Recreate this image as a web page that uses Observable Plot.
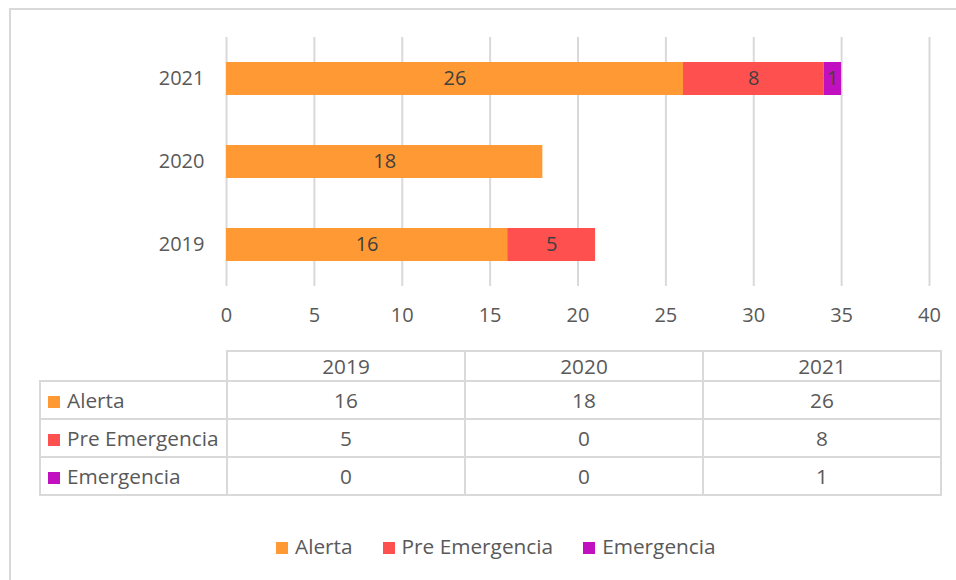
<!DOCTYPE html>
<html>
<head>
<meta charset="utf-8">
<script src="https://cdn.jsdelivr.net/npm/d3@7"></script>
<script src="https://cdn.jsdelivr.net/npm/@observablehq/plot@0.6"></script>
<style>
  html, body { margin: 0; padding: 0; background: #fff; }
  #wrap { position: relative; width: 956px; height: 580px; overflow: hidden; font-family: "Open Sans", sans-serif; color: #595959; }
  #frame { position: absolute; left: 9px; top: 8px; width: 1200px; height: 900px; border-left: 2px solid #d9d9d9; border-top: 2px solid #d9d9d9; }
  #chart { position: absolute; left: 0; top: 0; }
  #tbl { position: absolute; left: 39px; top: 350px; border-collapse: collapse; font-size: 20.8px; color: #595959; table-layout: fixed; }
  #tbl td { border: 2px solid #d9d9d9; padding: 0; text-align: center; line-height: 26px; }
  #tbl td.blank { border: none; }
  #tbl td.lab { text-align: left; padding-left: 7px; white-space: nowrap; }
  #tbl tr.head td { height: 28px; }
  #tbl tr.body td { height: 36px; }
  .sw { display: inline-block; width: 12px; height: 12px; margin-right: 7px; vertical-align: 0px; }
  #legend { position: absolute; left: 276px; top: 532px; display: flex; gap: 30px; font-size: 20.8px; color: #595959; white-space: nowrap; line-height: 28px; }
</style>
</head>
<body>
<div id="wrap">
  <div id="frame"></div>
  <div id="chart"></div>
  <table id="tbl"></table>
  <div id="legend"></div>
</div>
<script>
const years = ["2019", "2020", "2021"];
const series = ["Alerta", "Pre Emergencia", "Emergencia"];
const alerta = [16, 18, 26];
const preEmergencia = [5, 0, 8];
const emergencia = [0, 0, 1];
const colors = ["#FF9933", "#FF5050", "#C010C0"];
const xTicks = [0, 5, 10, 15, 20, 25, 30, 35, 40];

const seriesValues = [alerta, preEmergencia, emergencia];
const data = years.flatMap((y, i) => series.map((s, j) => ({year: y, series: s, value: seriesValues[j][i]})));
const shown = data.filter(d => d.value > 0);

const chart = Plot.plot({
  width: 956,
  height: 340,
  marginLeft: 226,
  marginRight: 27,
  marginTop: 37,
  marginBottom: 54,
  style: {fontFamily: "'Open Sans', sans-serif", fontSize: "20px", color: "#595959", background: "transparent"},
  x: {domain: [0, 40], ticks: xTicks, label: null},
  y: {domain: [...years].reverse(), paddingInner: 0.6, paddingOuter: 0.3, label: null},
  color: {domain: series, range: colors},
  marks: [
    Plot.ruleX(xTicks, {stroke: "#d9d9d9", strokeWidth: 2}),
    Plot.barX(shown, Plot.stackX({x: "value", y: "year", fill: "series", order: series})),
    Plot.text(shown, Plot.stackX({x: "value", y: "year", z: "series", order: series, text: d => String(d.value), fill: "#404040", fontSize: 20})),
    Plot.axisX({ticks: xTicks, tickSize: 0, tickPadding: 21, fontSize: 20, label: null}),
    Plot.axisY({tickSize: 0, tickPadding: 22, fontSize: 20, label: null})
  ]
});
document.getElementById("chart").appendChild(chart);

// data table
const tbl = document.getElementById("tbl");
const colgroup = document.createElement("colgroup");
[187, 238, 238, 238].forEach(w => { const c = document.createElement("col"); c.style.width = w + "px"; colgroup.appendChild(c); });
tbl.appendChild(colgroup);
const head = document.createElement("tr");
head.className = "head";
const blank = document.createElement("td"); blank.className = "blank"; head.appendChild(blank);
years.forEach(y => { const td = document.createElement("td"); td.textContent = y; head.appendChild(td); });
tbl.appendChild(head);
series.forEach((s, j) => {
  const tr = document.createElement("tr");
  tr.className = "body";
  const lab = document.createElement("td");
  lab.className = "lab";
  lab.innerHTML = `<span class="sw" style="background:${colors[j]}"></span>${s}`;
  tr.appendChild(lab);
  years.forEach((y, i) => { const td = document.createElement("td"); td.textContent = seriesValues[j][i]; tr.appendChild(td); });
  tbl.appendChild(tr);
});

// legend
const legend = document.getElementById("legend");
series.forEach((s, j) => {
  const item = document.createElement("div");
  item.innerHTML = `<span class="sw" style="background:${colors[j]}"></span>${s}`;
  legend.appendChild(item);
});
</script>
</body>
</html>
